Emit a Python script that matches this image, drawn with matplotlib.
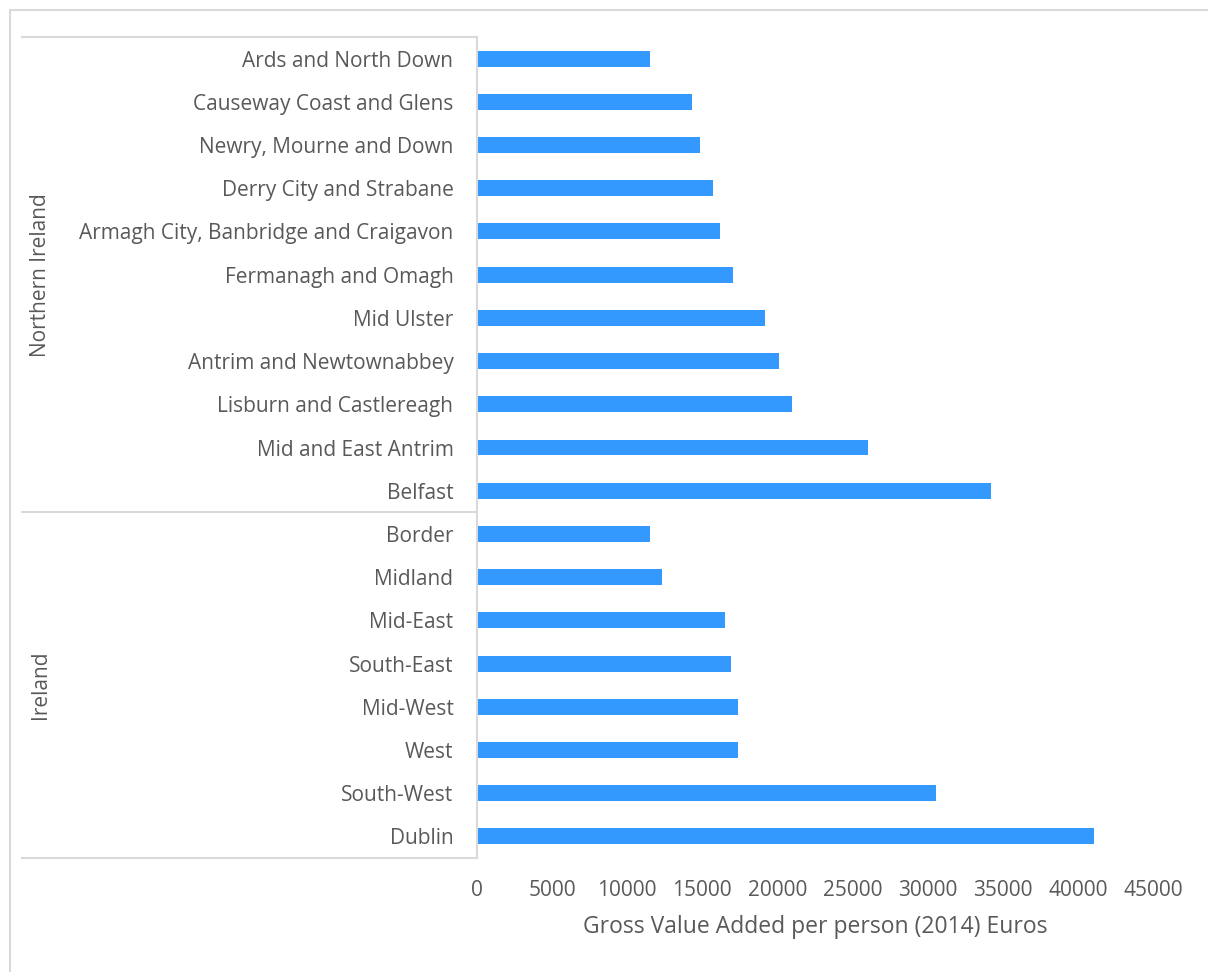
import matplotlib.pyplot as plt
import matplotlib.transforms as mtransforms
from matplotlib.patches import Rectangle
import numpy as np

plt.rcParams['font.family'] = ['Open Sans', 'DejaVu Sans']

# Regions, top to bottom, and their GVA per person (2014, euros)
ni_regions = [
    'Ards and North Down', 'Causeway Coast and Glens', 'Newry, Mourne and Down',
    'Derry City and Strabane', 'Armagh City, Banbridge and Craigavon',
    'Fermanagh and Omagh', 'Mid Ulster', 'Antrim and Newtownabbey',
    'Lisburn and Castlereagh', 'Mid and East Antrim', 'Belfast',
]
ni_values = [11500, 14300, 14850, 15700, 16150, 17050, 19150, 20100, 20950, 26000, 34200]

ie_regions = ['Border', 'Midland', 'Mid-East', 'South-East', 'Mid-West', 'West',
              'South-West', 'Dublin']
ie_values = [11500, 12300, 16500, 16900, 17350, 17350, 30550, 41100]

groups = ['Northern Ireland', 'Ireland']
xticks = np.arange(0, 45001, 5000)

labels = ni_regions + ie_regions
values = ni_values + ie_values
ypos = np.arange(len(labels))

text_color = '#595959'
line_color = '#D9D9D9'
W, H = 1208, 972

fig = plt.figure(figsize=(W / 100, H / 100), dpi=100)
ax = fig.add_axes([477 / W, 1 - 858 / H, (1153 - 477) / W, (858 - 37) / H])

ax.barh(ypos, values, height=0.37, color='#3399FF')
ax.set_xlim(0, 45000)
ax.set_ylim(len(labels) - 0.5, -0.5)

ax.set_xticks(xticks)
ax.set_xticklabels([str(t) for t in xticks])
ax.set_yticks(ypos)
ax.set_yticklabels(labels)
ax.tick_params(axis='y', length=0, pad=17, labelsize=15, labelcolor=text_color)
ax.tick_params(axis='x', length=0, pad=16, labelsize=15, labelcolor=text_color)

for side in ['top', 'right', 'bottom']:
    ax.spines[side].set_visible(False)
ax.spines['left'].set_color(line_color)
ax.spines['left'].set_linewidth(1.5)

ax.set_xlabel('Gross Value Added per person (2014) Euros', fontsize=16.5,
              color=text_color, labelpad=10)

# group brackets on the category axis
trans = mtransforms.blended_transform_factory(fig.transFigure, ax.transData)
n_ni = len(ni_regions)
bounds = [-0.5, n_ni - 0.5, len(labels) - 0.5]
for b in bounds:
    ax.plot([22 / W, 477 / W], [b, b], transform=trans, color=line_color,
            lw=1.5, clip_on=False)

centers = [(bounds[0] + bounds[1]) / 2, (bounds[1] + bounds[2]) / 2]
for name, c in zip(groups, centers):
    ax.text(41 / W, c, name, transform=trans, rotation=90, ha='center',
            va='center', fontsize=15, color=text_color)

# chart frame
fig.patches.append(Rectangle((9.5 / W, -0.1), 1.2, 1 - 9.5 / H + 0.1,
                             transform=fig.transFigure, fill=False,
                             edgecolor=line_color, lw=1.5))

plt.savefig('out.png', dpi=100)
